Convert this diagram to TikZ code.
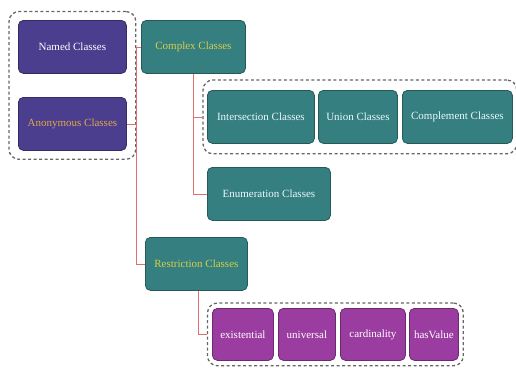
\documentclass[tikz,border=0pt]{standalone}
\usepackage{fontspec}
\setmainfont{Liberation Serif}
\usetikzlibrary{fit}

\definecolor{slateblue}{HTML}{4B3E8E}
\definecolor{tealbox}{HTML}{357F80}
\definecolor{purplebox}{HTML}{9B3CA0}
\definecolor{goldtext}{HTML}{E0A848}
\definecolor{yellowtext}{HTML}{D6D048}
\definecolor{linkred}{HTML}{E07070}

\tikzset{
  classbox/.style={rectangle, rounded corners=5pt, draw=#1!70!black, fill=#1,
    line width=0.8pt, text=white, font=\fontsize{11}{13}\selectfont,
    minimum height=53pt, inner sep=0pt, anchor=north west},
  groupbox/.style={draw=gray!80!black, dashed, line width=1.3pt,
    rounded corners=10pt, dash pattern=on 3pt off 2.5pt},
  link/.style={draw=linkred, line width=0.6pt},
}

\begin{document}
\begin{tikzpicture}[x=1pt, y=-1pt]
      \useasboundingbox (0,0) rectangle (516,367);
      % named / anonymous
      \node[classbox=slateblue, minimum width=108pt] (named) at (18,20) {Named Classes};
      \node[classbox=slateblue, minimum width=108pt, text=goldtext] (anon) at (18,97) {Anonymous Classes};
      \node[groupbox, fit=(named)(anon), inner xsep=9pt, inner ysep=8.5pt] (grpA) {};
      % complex classes
      \node[classbox=tealbox, minimum width=104pt, text=yellowtext] (complex) at (141,20) {Complex Classes};
      \node[classbox=tealbox, minimum width=107pt, text=cyan!8] (inter) at (207,90) {Intersection Classes};
      \node[classbox=tealbox, minimum width=79pt, text=cyan!8] (union) at (318,90) {Union Classes};
      \node[classbox=tealbox, minimum width=110pt, text=cyan!8] (compl) at (402,90) {Complement Classes};
      \node[groupbox, fit=(inter)(compl), inner xsep=4pt, inner ysep=10pt] (grpB) {};
      \node[classbox=tealbox, minimum width=123pt, text=cyan!8] (enum) at (207,167) {Enumeration Classes};
      % restriction classes
      \node[classbox=tealbox, minimum width=102pt, text=yellowtext] (restr) at (145,237) {Restriction Classes};
      \node[classbox=purplebox, minimum width=61pt, minimum height=52pt] (exist) at (212,308) {existential};
      \node[classbox=purplebox, minimum width=57pt, minimum height=52pt] (univ) at (278,308) {universal};
      \node[classbox=purplebox, minimum width=65pt, minimum height=52pt] (card) at (340,308) {cardinality};
      \node[classbox=purplebox, minimum width=49pt, minimum height=52pt] (hasval) at (409,308) {hasValue};
      \node[groupbox, fit=(exist)(hasval), inner xsep=4.5pt, inner ysep=5pt] (grpC) {};
      % connectors
      \draw[link] (complex.west) -- ++(-5,0) |- (restr.west);
      \draw[link] (anon.east) -- ++(10,0);
      \draw[link] (complex.south) |- (grpB.west);
      \draw[link] (complex.south) |- (enum.west);
      \draw[link] ([xshift=2pt]restr.south) |- (grpC.west);
\end{tikzpicture}
\end{document}
